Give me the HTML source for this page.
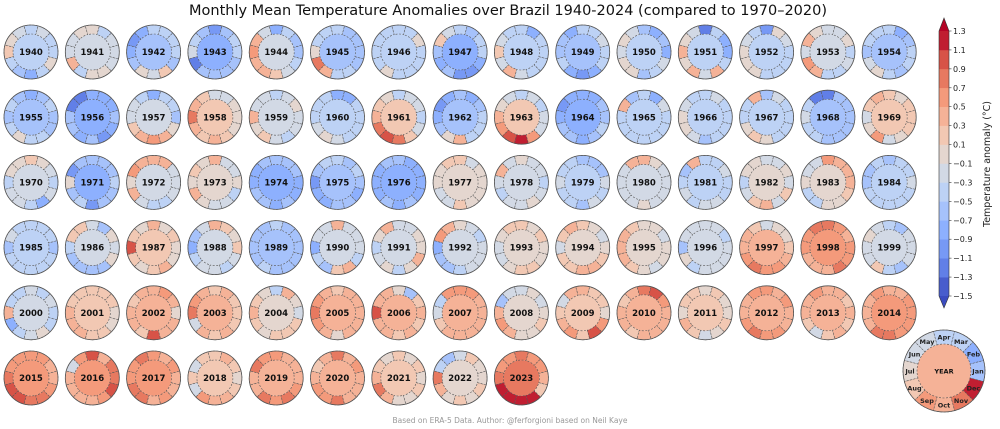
<!DOCTYPE html>
<html><head><meta charset="utf-8">
<style>
html,body{margin:0;padding:0;background:#fff;}
svg{display:block;font-family:"DejaVu Sans","Liberation Sans",sans-serif;}
</style></head>
<body>
<svg id="chart" width="1000" height="429" viewBox="0 0 1000 429">
<text x="508" y="15" text-anchor="middle" font-size="14.5" fill="#111">Monthly Mean Temperature Anomalies over Brazil 1940-2024 (compared to 1970–2020)</text>
<text x="510" y="423" text-anchor="middle" font-size="7.5" fill="#999">Based on ERA-5 Data. Author: @ferforgioni based on Neil Kaye</text>
<g id="donuts"></g>
<g id="legend"></g>
<g id="cbar"></g>
</svg>
<script>
const years = [1940,1941,1942,1943,1944,1945,1946,1947,1948,1949,1950,1951,1952,1953,1954,
1955,1956,1957,1958,1959,1960,1961,1962,1963,1964,1965,1966,1967,1968,1969,
1970,1971,1972,1973,1974,1975,1976,1977,1978,1979,1980,1981,1982,1983,1984,
1985,1986,1987,1988,1989,1990,1991,1992,1993,1994,1995,1996,1997,1998,1999,
2000,2001,2002,2003,2004,2005,2006,2007,2008,2009,2010,2011,2012,2013,2014,
2015,2016,2017,2018,2019,2020,2021,2022,2023];
const annual = [-0.5,-0.2,-0.7,-0.8,-0.2,-0.6,-0.5,-0.8,-0.4,-0.7,-0.5,-0.5,-0.4,-0.2,-0.6,
-0.6,-0.8,-0.2,0.1,-0.3,-0.5,0.1,-0.7,0.1,-0.8,-0.5,-0.4,-0.4,-0.6,0.1,
-0.2,-0.8,-0.3,-0.1,-0.8,-0.7,-0.8,0.0,-0.2,-0.5,-0.2,-0.4,-0.1,0.0,-0.5,
-0.5,-0.2,0.2,-0.3,-0.6,-0.3,-0.2,-0.2,0.0,0.0,0.0,-0.3,0.3,0.5,-0.2,
-0.2,0.2,0.4,0.3,0.0,0.4,0.3,0.3,0.0,0.2,0.4,0.1,0.4,0.3,0.5,
0.5,0.5,0.5,0.2,0.4,0.4,0.1,0.0,0.7];
const monthly = [
[-0.4,-0.5,-0.3,-0.4,-0.3,-0.1,0.1,-0.4,-0.6,-0.8,-0.5,-0.1],
[-0.3,-0.3,-0.5,0.0,-0.1,-0.3,-0.3,0.3,-0.5,0.0,0.0,-0.2],
[-0.4,-0.5,-0.5,-0.5,-0.9,-1.0,-0.8,-0.7,0.0,-0.3,0.2,-0.6],
[-0.5,-0.5,-0.7,-1.1,-0.7,-0.5,-0.3,-1.2,-0.6,-0.7,-0.7,-0.6],
[-0.6,-0.6,-0.5,-0.8,-0.3,0.3,0.5,0.4,0.4,0.1,-0.3,-0.5],
[-0.7,-0.7,-0.6,-0.5,-0.4,-0.4,0.0,0.7,0.3,-0.5,-0.5,-0.6],
[-0.5,0.0,-0.4,-0.4,-0.5,-0.4,-0.5,-0.5,0.0,-0.4,-0.5,-0.5],
[-0.5,-0.5,-0.6,-0.5,-0.3,0.2,-0.6,-0.8,-0.7,-1.0,-1.1,-0.9],
[-0.5,-0.5,-0.8,-0.4,-0.4,-0.2,0.2,-0.2,0.4,-0.3,-0.4,-0.4],
[-0.5,-0.3,-0.5,-0.5,-0.8,-0.6,-0.6,-0.5,-0.8,-1.0,-0.9,-0.5],
[-0.8,-0.7,-0.8,-0.6,-0.3,-0.1,-0.3,0.0,-0.1,-0.7,-0.4,-0.3],
[-0.8,-0.8,-0.5,-1.2,-0.3,-0.1,0.3,-0.1,0.3,-0.3,0.3,-0.5],
[-0.4,-0.3,-0.1,-1.0,-0.5,-0.3,0.0,-0.1,-0.1,-0.4,-0.4,-0.5],
[-0.4,-0.1,-0.3,-0.3,-0.1,0.3,-0.2,0.5,0.3,-0.5,-0.4,-0.3],
[-0.5,-0.7,-0.8,-0.5,-0.4,-0.4,-0.6,-0.3,0.0,-0.5,-0.6,-0.5],
[-0.6,-0.5,-0.7,-0.8,-0.6,-0.5,-0.7,-0.5,0.0,-0.4,-0.5,-0.6],
[-0.7,-0.8,-0.9,-0.9,-1.2,-1.3,-0.6,-0.7,-0.8,-0.7,-1.1,-0.8],
[-0.6,-0.5,-0.4,-0.9,-0.4,-0.2,-0.3,0.1,0.3,0.5,0.3,-0.1],
[-0.1,0.0,-0.3,-0.2,0.1,0.3,0.7,0.3,0.2,0.4,0.2,0.0],
[-0.3,-0.1,-0.2,-0.4,-0.3,-0.2,0.3,-0.1,0.1,-0.3,-0.4,-0.2],
[-0.4,-0.4,-0.8,-0.8,-0.5,-0.4,-0.4,-0.2,0.0,-0.3,-0.5,-0.5],
[-0.4,-0.2,-0.3,-0.5,0.0,0.2,0.3,0.8,0.9,0.8,0.2,-0.3],
[-0.5,-0.6,-0.8,-0.7,-0.8,-1.0,-0.8,-0.7,0.0,0.4,-0.5,-0.5],
[-0.3,-0.4,-0.3,-0.5,-0.2,0.0,0.3,0.5,0.9,1.2,0.5,-0.3],
[-0.6,-0.7,-0.8,-0.8,-0.9,-1.0,-0.8,-0.7,-0.6,-0.9,-0.6,-0.4],
[-0.5,-0.3,-0.9,-0.5,-0.6,0.3,-0.4,-0.5,-0.4,-0.5,-0.4,-0.5],
[-0.5,-0.4,-0.3,-0.5,-0.4,-0.3,0.0,-0.1,-0.3,-0.6,-0.5,-0.4],
[-0.4,-0.5,-0.3,-0.6,0.4,-0.5,-0.5,0.0,0.1,0.0,-0.4,-0.5],
[-0.6,-0.7,-0.6,-1.2,-1.3,-0.5,-0.3,-0.4,-0.5,-0.7,-0.6,-0.6],
[0.1,0.2,0.0,0.2,0.3,0.1,-0.2,0.0,0.5,-0.3,0.0,0.2],
[-0.4,-0.3,-0.1,0.2,-0.1,-0.1,-0.5,-0.3,-0.2,-0.4,-0.8,-0.3],
[-0.5,-0.7,-0.6,-0.6,-0.6,-1.1,-0.1,-0.7,-0.4,-1.1,-0.6,-0.6],
[-0.3,-0.2,0.3,0.3,0.3,0.5,0.0,0.3,-0.3,-0.5,-0.4,-0.3],
[0.0,-0.2,-0.3,0.3,-0.1,0.2,-0.1,0.3,-0.1,-0.3,-0.2,-0.4],
[-0.8,-0.7,-0.7,-0.6,-0.7,-0.8,-0.9,-0.7,-0.6,-0.9,-0.7,-0.8],
[-0.7,-0.5,-0.6,-0.5,-0.5,-0.7,-1.1,-0.9,-0.8,-0.6,-0.6,-0.8],
[-0.8,-0.9,-0.8,-0.7,-0.7,-0.8,-0.9,-0.8,-0.7,-0.9,-0.7,-0.8],
[-0.1,0.0,-0.2,0.2,0.2,-0.1,0.0,-0.2,-0.3,0.1,-0.1,0.0],
[-0.4,-0.3,-0.2,-0.1,-0.3,0.3,-0.3,-0.4,-0.2,-0.3,0.0,-0.2],
[-0.3,-0.6,-0.7,-0.6,-0.4,-0.5,-0.3,-0.4,-0.5,-0.6,-0.3,-0.4],
[-0.2,-0.3,0.0,0.3,0.3,-0.2,-0.3,-0.2,-0.3,-0.1,-0.3,-0.2],
[-0.4,-0.3,-0.5,-0.5,0.4,-0.7,-0.5,-0.3,-0.4,-0.2,-0.3,-0.4],
[-0.3,0.0,-0.2,-0.3,0.0,0.0,-0.4,-0.2,0.2,0.3,-0.2,0.1],
[0.3,0.4,0.3,0.5,-0.2,-0.2,0.0,-0.5,-0.4,-0.1,-0.1,0.1],
[-0.3,-0.4,-0.5,-0.6,-0.5,-0.6,-0.6,-0.4,-0.5,-0.5,-0.4,-0.4],
[-0.6,-0.5,-0.4,-0.5,-0.4,-0.3,-0.7,-0.5,-0.4,-0.5,-0.4,-0.5],
[-0.2,-0.1,-0.7,-0.2,0.2,0.1,-0.5,-0.6,-0.6,-0.6,-0.6,-0.1],
[0.0,0.1,0.0,0.3,-0.1,0.2,0.9,0.2,0.0,0.2,0.3,-0.1],
[0.1,0.0,0.2,0.3,-0.3,-0.6,-0.8,-0.4,-0.3,-0.2,-0.4,-0.3],
[-0.7,-0.6,-0.6,-0.5,-0.6,-0.7,-0.7,-0.6,-0.5,-0.6,-0.6,-0.7],
[-0.3,-0.3,-0.2,0.3,-0.3,-0.2,-0.9,-0.4,-0.7,0.2,0.3,-0.4],
[-0.1,-0.1,-0.2,-0.3,0.3,0.0,-0.4,-0.3,0.0,-0.5,-0.1,0.3],
[-0.3,-0.4,-0.2,0.0,0.3,0.5,-0.8,-0.7,-0.6,-0.5,-0.3,-0.2],
[0.0,0.1,0.0,0.2,0.1,-0.1,-0.2,-0.3,0.0,0.2,0.1,0.0],
[0.0,-0.2,0.0,0.1,0.3,0.1,-0.3,0.1,0.2,0.3,0.4,0.2],
[-0.1,-0.2,0.0,-0.1,0.1,0.3,0.4,0.3,0.1,0.0,-0.2,-0.1],
[-0.3,-0.4,-0.2,-0.3,-0.2,-0.3,-0.7,0.0,-0.4,-0.3,-0.2,-0.3],
[0.1,-0.1,-0.1,-0.2,0.2,0.3,0.4,0.6,0.7,0.6,0.5,0.3],
[0.5,0.4,0.5,0.7,0.8,0.5,0.6,0.4,0.3,0.4,0.7,0.5],
[-0.2,-0.3,-0.7,-0.5,-0.2,-0.1,-0.3,-0.2,0.1,-0.4,-0.7,-0.3],
[-0.5,-0.3,-0.4,-0.2,-0.5,-0.4,0.3,-0.9,-0.5,-0.2,0.0,-0.4],
[0.0,0.1,0.2,0.1,0.2,0.2,0.3,0.4,0.3,0.2,0.1,-0.1],
[-0.1,0.3,0.5,0.4,0.3,0.2,0.4,0.3,0.2,0.9,0.4,0.3],
[0.2,0.1,0.3,0.2,0.3,0.5,0.7,-0.3,0.3,0.1,0.3,0.2],
[-0.2,-0.1,0.3,-0.5,0.0,0.1,0.3,0.2,0.0,0.2,0.1,0.1],
[0.3,0.4,0.3,0.2,0.3,0.5,0.8,0.5,0.3,0.0,0.4,0.3],
[0.3,0.2,-0.6,0.0,0.3,0.3,0.9,0.3,0.3,0.2,0.3,0.2],
[0.3,0.4,0.5,0.5,0.6,-0.4,-0.3,0.2,0.3,0.3,0.4,0.3],
[-0.1,-0.2,0.0,-0.2,-0.3,-0.6,0.3,0.5,0.3,0.0,-0.1,0.1],
[0.0,0.1,0.2,0.3,0.3,-0.3,0.1,0.3,0.5,0.2,1.0,0.5],
[0.4,0.5,1.0,0.7,0.3,0.2,0.3,0.3,0.2,0.4,0.3,0.3],
[0.0,-0.1,0.1,0.0,0.2,0.1,-0.1,0.3,0.2,-0.3,0.0,0.2],
[0.4,0.5,0.3,0.5,0.6,0.4,0.3,0.6,0.7,0.6,0.5,0.3],
[0.3,0.2,0.3,0.3,0.5,0.3,0.3,0.2,-0.3,0.2,0.3,0.2],
[0.5,0.5,0.4,0.3,0.5,0.4,0.3,0.4,0.7,0.8,0.6,0.5],
[0.4,0.3,0.5,0.6,0.5,0.6,0.7,0.9,0.9,0.7,0.8,0.6],
[0.8,0.7,0.4,0.9,0.5,-0.3,0.3,0.4,0.3,0.4,0.5,0.9],
[0.3,0.6,0.4,0.5,0.7,0.6,0.5,0.8,0.7,0.4,0.5,0.3],
[0.0,0.2,0.3,0.2,0.1,-0.3,0.2,-0.3,0.5,0.3,0.4,0.2],
[0.4,0.3,0.4,0.6,0.5,0.8,0.4,0.3,0.8,0.5,0.8,0.5],
[0.3,0.5,0.4,0.7,0.4,0.2,0.3,0.6,0.6,0.7,0.4,0.3],
[0.0,0.1,0.0,0.2,0.0,0.1,0.3,0.8,0.4,0.0,0.0,0.1],
[0.0,-0.1,0.1,-0.2,-0.6,-0.5,0.7,0.3,0.0,0.1,0.0,0.1],
[0.3,0.5,0.6,0.7,0.5,0.6,0.8,1.1,1.3,1.3,1.2,0.1]
];
const monthNames = ["Jan","Feb","Mar","Apr","May","Jun","Jul","Aug","Sep","Oct","Nov","Dec"];
const legendMonthly = [-0.7,-0.9,-0.5,-0.5,-0.2,-0.3,0.0,0.1,0.5,0.4,0.8,1.2];
const legendAnnual = 0.3;
const cbarTicks = [1.3,1.1,0.9,0.7,0.5,0.3,0.1,-0.1,-0.3,-0.5,-0.7,-0.9,-1.1,-1.3,-1.5];

const VMIN=-1.5, VMAX=1.3, STEP=0.2;
const NS="http://www.w3.org/2000/svg";
const anchors=[[0,[59,76,192]],[0.125,[103,136,238]],[0.25,[141,176,254]],[0.375,[184,208,249]],[0.5,[221,221,221]],[0.625,[245,196,172]],[0.75,[244,154,123]],[0.875,[221,96,76]],[1,[180,4,38]]];
function cw(t){t=Math.max(0,Math.min(1,t));for(let i=1;i<anchors.length;i++){if(t<=anchors[i][0]){const a=anchors[i-1][0],ca=anchors[i-1][1],b=anchors[i][0],cb=anchors[i][1];const f=(t-a)/(b-a);return 'rgb('+ca.map((c,k)=>Math.round(c+(cb[k]-c)*f)).join(',')+')';}}return 'rgb(180,4,38)';}
function color(v){
  if(v>VMAX) return cw(1); if(v<VMIN) return cw(0);
  let b=Math.floor((v-VMIN)/STEP+1e-6); b=Math.min(b,13);
  const c=VMIN+(b+0.5)*STEP; return cw((c-VMIN)/(VMAX-VMIN));
}
function mk(tag,attrs,parent){const e=document.createElementNS(NS,tag);for(const k in attrs)e.setAttribute(k,attrs[k]);parent.appendChild(e);return e;}
function sector(cx,cy,r0,r1,a0,a1){
  const p=(r,a)=>[cx+r*Math.cos(a),cy-r*Math.sin(a)];
  const A=p(r1,a0),B=p(r1,a1),C=p(r0,a1),D=p(r0,a0);
  return `M${A[0]},${A[1]}A${r1},${r1} 0 0 0 ${B[0]},${B[1]}L${C[0]},${C[1]}A${r0},${r0} 0 0 1 ${D[0]},${D[1]}Z`;
}
function donut(parent,cx,cy,rIn,rOut,months,yr,label,fs,showMonths){
  const g=mk('g',{},parent);
  mk('circle',{cx:cx,cy:cy,r:rIn,fill:color(yr)},g);
  (months||[]).forEach((v,i)=>{
    const a=i*Math.PI/6, a0=a-Math.PI/12, a1=a+Math.PI/12;
    const s=mk('path',{d:sector(cx,cy,rIn,rOut,a0,a1),fill:color(v),stroke:'#555','stroke-width':0.6,'stroke-dasharray':'2,1.5'},g);
    
    
    if(showMonths){
      const rm=(rIn+rOut)/2;
      const t=mk('text',{x:cx+rm*Math.cos(a),y:cy-rm*Math.sin(a)+2.5,'text-anchor':'middle','font-size':6.5,'font-weight':'bold',fill:'#222'},g);
      t.textContent=monthNames[i];
      
      
    }
  });
  mk('circle',{cx:cx,cy:cy,r:rOut,fill:'none',stroke:'#555','stroke-width':0.8},g);
  const t=mk('text',{x:cx,y:cy+fs*0.36,'text-anchor':'middle','font-size':fs,'font-weight':'bold',fill:'#111'},g);
  t.textContent=label;
  
  
  return g;
}
const dg=document.getElementById('donuts');
years.forEach((y,i)=>{
  const col=i%15,row=Math.floor(i/15);
  const g=donut(dg,31+col*61.3,52+row*65.2,18,27,monthly[i],annual[i],String(y),8.5,false);
  
  
});
const lg=document.getElementById('legend');
const lgd=donut(lg,944,371,27,41,legendMonthly,legendAnnual,'YEAR',6.5,true);



const cbg=document.getElementById('cbar');
const cTop=31,cBot=296,cX=939,cW=10;
const ys=v=>cTop+(VMAX-v)/(VMAX-VMIN)*(cBot-cTop);
for(let b=0;b<14;b++){
  const lo=VMIN+b*STEP,hi=lo+STEP;
  const r=mk('rect',{x:cX,y:ys(hi),width:cW,height:ys(lo)-ys(hi)+0.3,fill:color(lo+STEP/2)},cbg);
  
  
}
const tt=mk('path',{d:`M${cX},${cTop}L${cX+cW/2},18L${cX+cW},${cTop}Z`,fill:cw(1)},cbg);


const tb=mk('path',{d:`M${cX},${cBot}L${cX+cW/2},308L${cX+cW},${cBot}Z`,fill:cw(0)},cbg);


mk('path',{d:`M${cX},${cTop}L${cX+cW/2},18L${cX+cW},${cTop}L${cX+cW},${cBot}L${cX+cW/2},308L${cX},${cBot}Z`,fill:'none',stroke:'#333','stroke-width':0.6},cbg);
cbarTicks.forEach(v=>{
  const y=ys(v);
  mk('line',{x1:cX+cW,x2:cX+cW+2.5,y1:y,y2:y,stroke:'#333','stroke-width':0.6},cbg);
  const t=mk('text',{x:cX+cW+4,y:y+3,'font-size':8,fill:'#222'},cbg);
  t.textContent=(v<0?'\u2212':'')+Math.abs(v).toFixed(1);
  
  
});
const cl=mk('text',{x:0,y:0,'text-anchor':'middle','font-size':9.5,fill:'#222',transform:'translate(990,164) rotate(-90)'},cbg);
cl.textContent='Temperature anomaly (°C)';


</script>
</body></html>
